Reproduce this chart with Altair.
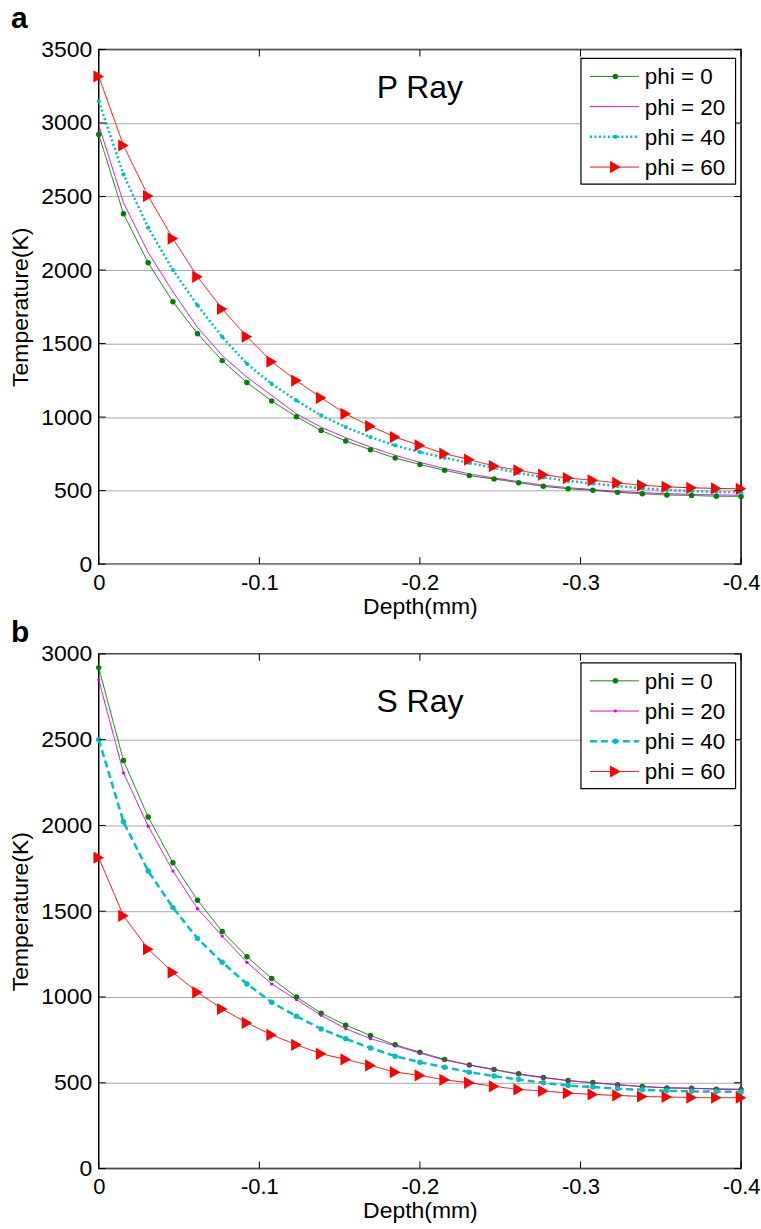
import altair as alt
import pandas as pd

FONT = "Liberation Sans"

depth = [0.0, -0.0154, -0.0308, -0.0462, -0.0615, -0.0769, -0.0923, -0.1077, -0.1231,
         -0.1385, -0.1538, -0.1692, -0.1846, -0.2, -0.2154, -0.2308, -0.2462, -0.2615,
         -0.2769, -0.2923, -0.3077, -0.3231, -0.3385, -0.3538, -0.3692, -0.3846, -0.4]

series = ["phi = 0", "phi = 20", "phi = 40", "phi = 60"]

# Panel a: P Ray
p_phi0 = [2922, 2383, 2049, 1784, 1567, 1384, 1235, 1110, 1002, 909, 837, 778, 721, 678,
          638, 602, 579, 554, 529, 513, 502, 488, 478, 470, 467, 462, 460]
p_phi20 = [2985, 2458, 2119, 1852, 1610, 1418, 1271, 1147, 1022, 931, 860, 796, 740, 692,
           650, 614, 586, 561, 537, 520, 507, 494, 486, 479, 475, 471, 468]
p_phi40 = [3148, 2650, 2288, 2000, 1760, 1545, 1362, 1226, 1113, 1011, 932, 864, 807, 762,
           724, 688, 654, 620, 590, 566, 548, 531, 516, 505, 497, 491, 487]
p_phi60 = [3317, 2847, 2503, 2214, 1954, 1735, 1547, 1377, 1248, 1131, 1022, 938, 864, 807,
           751, 710, 667, 638, 608, 585, 570, 552, 536, 526, 519, 515, 512]

# Panel b: S Ray
s_phi0 = [2920, 2378, 2049, 1783, 1564, 1382, 1235, 1108, 1000, 906, 836, 776, 721, 678,
          636, 604, 578, 552, 531, 513, 501, 488, 478, 470, 468, 463, 461]
s_phi20 = [2849, 2306, 1996, 1734, 1515, 1355, 1202, 1076, 985, 893, 815, 757, 716, 673,
           632, 603, 575, 549, 530, 512, 500, 489, 478, 471, 468, 464, 462]
s_phi40 = [2500, 2021, 1734, 1521, 1341, 1202, 1076, 969, 888, 814, 756, 703, 655, 620,
           591, 562, 539, 519, 500, 484, 475, 465, 459, 453, 450, 449, 446]
s_phi60 = [1812, 1473, 1279, 1143, 1027, 930, 849, 779, 721, 669, 636, 601, 562, 543,
           517, 500, 479, 461, 452, 440, 432, 426, 420, 417, 414, 413, 413]

x_ticks = [0, -0.1, -0.2, -0.3, -0.4]
y_ticks_a = [0, 500, 1000, 1500, 2000, 2500, 3000, 3500]
y_ticks_b = [0, 500, 1000, 1500, 2000, 2500, 3000]

W, H = 644, 516

style_a = {
    "phi = 0": dict(color="#008000", dash=[1, 0], width=1, shape="circle", size=30),
    "phi = 20": dict(color="#d200d2", dash=[1, 0], width=1, shape=None, size=0),
    "phi = 40": dict(color="#00bfbf", dash=[2, 2.5], width=2.5, shape="circle", size=18),
    "phi = 60": dict(color="#ff0000", dash=[1, 0], width=1, shape="triangle-right", size=150),
}
style_b = {
    "phi = 0": dict(color="#008000", dash=[1, 0], width=1, shape="circle", size=30),
    "phi = 20": dict(color="#d200d2", dash=[1, 0], width=1, shape="circle", size=10),
    "phi = 40": dict(color="#00bfbf", dash=[7, 4], width=2.5, shape="circle", size=30),
    "phi = 60": dict(color="#ff0000", dash=[1, 0], width=1, shape="triangle-right", size=150),
}


def panel(letter, letter_y, title, title_y, ymax, yticks, values, styles):
    rows = []
    for name, vals in zip(series, values):
        for d, t in zip(depth, vals):
            rows.append({"depth": d, "temp": t, "series": name})
    df = pd.DataFrame(rows)

    X = alt.X("depth:Q",
              scale=alt.Scale(domain=[-0.4, 0], reverse=True, nice=False, zero=False),
              axis=alt.Axis(values=x_ticks, title="Depth(mm)", grid=False, domain=False,
                            ticks=False, tickSize=0, labelPadding=8, titlePadding=2,
                            labelFlush=False, labelFontSize=22,
                            labelExpr="datum.value == 0 ? '0' : '-' + format(abs(datum.value), '.1f')"))
    Y = alt.Y("temp:Q",
              scale=alt.Scale(domain=[0, ymax], nice=False, zero=True),
              axis=alt.Axis(values=yticks, format="d", title="Temperature(K)", grid=True,
                            domain=False, ticks=False, tickSize=0, labelPadding=7,
                            labelFlush=False, titlePadding=8))

    layers = []
    for name in series:
        st = styles[name]
        base = alt.Chart(df).transform_filter(alt.datum.series == name)
        layers.append(base.mark_line(color=st["color"], strokeDash=st["dash"],
                                     strokeWidth=st["width"]).encode(x=X, y=Y))
    for name in series:
        st = styles[name]
        if st["shape"] is None:
            continue
        base = alt.Chart(df).transform_filter(alt.datum.series == name)
        layers.append(base.mark_point(shape=st["shape"], size=st["size"], filled=True,
                                      opacity=1, color=st["color"]).encode(x=X, y=Y))

    # inward frame ticks
    xt = pd.DataFrame({"depth": x_ticks})
    yt = pd.DataFrame({"temp": yticks})
    layers.append(alt.Chart(xt).mark_rule(color="black", strokeWidth=1).encode(
        x=X, y=alt.value(H), y2=alt.value(H - 7)))
    layers.append(alt.Chart(xt).mark_rule(color="black", strokeWidth=1).encode(
        x=X, y=alt.value(0), y2=alt.value(7)))
    layers.append(alt.Chart(yt).mark_rule(color="black", strokeWidth=1).encode(
        y=Y, x=alt.value(0), x2=alt.value(7)))
    layers.append(alt.Chart(yt).mark_rule(color="black", strokeWidth=1).encode(
        y=Y, x=alt.value(W), x2=alt.value(W - 7)))

    # legend box
    one = pd.DataFrame({"k": [0]})
    layers.append(alt.Chart(one).mark_rect(fill="white", stroke="black", strokeWidth=1.2).encode(
        x=alt.value(483.5), x2=alt.value(638.5), y=alt.value(9), y2=alt.value(135)))
    for k, name in enumerate(series):
        st = styles[name]
        yk = 27 + 30.3 * k
        lab = pd.DataFrame({"label": [name]})
        layers.append(alt.Chart(lab).mark_rule(color=st["color"], strokeDash=st["dash"],
                                               strokeWidth=st["width"]).encode(
            x=alt.value(492.5), x2=alt.value(541.5), y=alt.value(yk)))
        if st["shape"] is not None:
            layers.append(alt.Chart(lab).mark_point(shape=st["shape"], size=st["size"],
                                                    filled=True, opacity=1,
                                                    color=st["color"]).encode(
                x=alt.value(518), y=alt.value(yk)))
        layers.append(alt.Chart(lab).mark_text(font=FONT, fontSize=22.5, align="left",
                                               baseline="middle", color="black").encode(
            text="label:N", x=alt.value(547.5), y=alt.value(yk + 1)))

    tdf = pd.DataFrame({"t": [title]})
    layers.append(alt.Chart(tdf).mark_text(font=FONT, fontSize=32, align="center",
                                           baseline="middle", color="black").encode(
        text="t:N", x=alt.value(W / 2), y=alt.value(title_y)))
    ldf = pd.DataFrame({"t": [letter]})
    layers.append(alt.Chart(ldf).mark_text(font=FONT, fontSize=30, fontWeight="bold",
                                           align="left", baseline="alphabetic",
                                           color="black").encode(
        text="t:N", x=alt.value(-88), y=alt.value(letter_y)))

    return alt.layer(*layers).properties(width=W, height=H)


chart_a = panel("a", -22, "P Ray", 39, 3500, y_ticks_a, [p_phi0, p_phi20, p_phi40, p_phi60], style_a)
chart_b = panel("b", -12, "S Ray", 48, 3000, y_ticks_b, [s_phi0, s_phi20, s_phi40, s_phi60], style_b)

chart = alt.vconcat(chart_a, chart_b, spacing=90, bounds="flush").properties(
    padding={"left": 9, "top": 1, "right": 0, "bottom": 3},
    background="white",
).configure_view(
    stroke="black", strokeWidth=1.5
).configure_axis(
    labelFont=FONT, labelFontSize=23, labelColor="black",
    titleFont=FONT, titleFontSize=23, titleFontWeight="normal", titleColor="black",
    gridColor="#a8a8a8", gridWidth=1, gridOpacity=1,
)

chart.save("out.html", embed_options={"renderer": "svg", "actions": False})
